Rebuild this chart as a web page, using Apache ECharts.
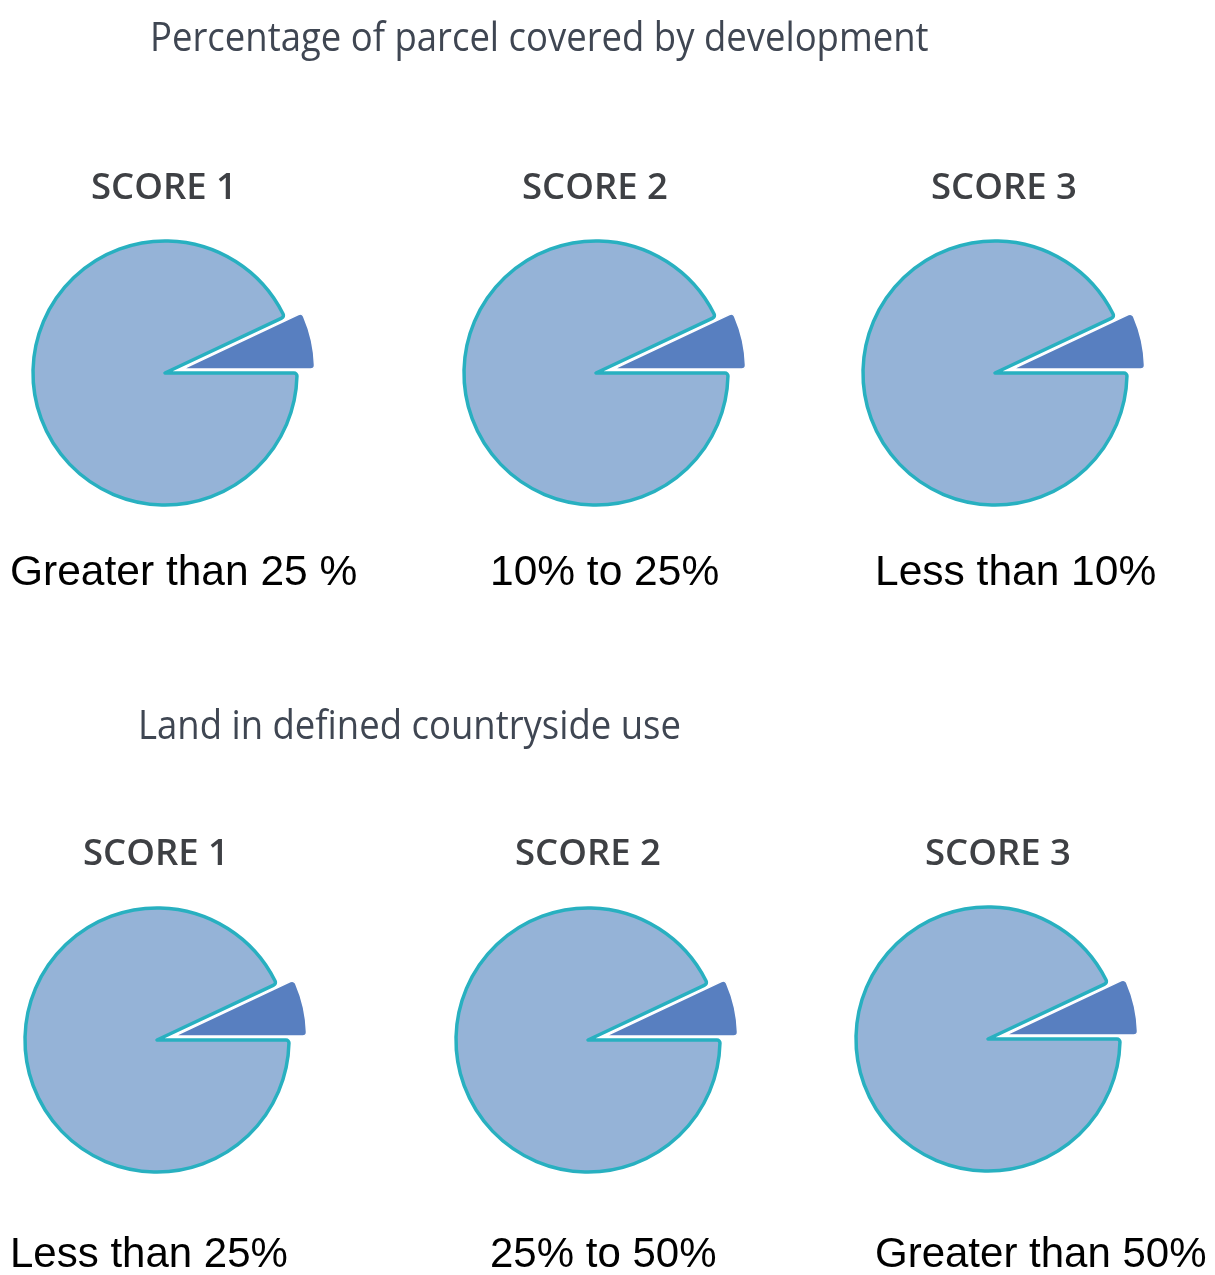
<!DOCTYPE html>
<html>
<head>
<meta charset="utf-8">
<script src="https://cdn.jsdelivr.net/npm/echarts@6/dist/echarts.min.js"></script>
<style>
  html, body { margin: 0; padding: 0; background: #ffffff; }
  #chart { width: 1215px; height: 1275px; }
</style>
</head>
<body>
<div id="chart"></div>
<script>
// ---- data ----
const sectionTitles = ['Percentage of parcel covered by development', 'Land in defined countryside use'];
const scoreLabels = ['SCORE 1', 'SCORE 2', 'SCORE 3'];
const rangeLabelsRow1 = ['Greater than 25 %', '10% to 25%', 'Less than 10%'];
const rangeLabelsRow2 = ['Less than 25%', '25% to 50%', 'Greater than 50%'];
const sliceNames = ['Highlighted share', 'Remainder'];
const sliceValues = [7, 93];

// ---- layout (positions only) ----
const pieCentersRow1 = [[165, 373], [596, 373], [995, 373]];
const pieCentersRow2 = [[157, 1040], [588, 1040], [988, 1039]];
const scoreXRow1 = [164, 595, 1004];
const scoreXRow2 = [156, 588, 998];
const labelLeft = [10, 490, 875];
const rowY = [{title: 40, score: 189, label: 573}, {title: 728, score: 855, label: 1255}];

const chart = echarts.init(document.getElementById('chart'), null, {renderer: 'canvas'});

const series = [];
const graphics = [];
const light = '#95b3d7';
const dark = '#587fc0';
const teal = '#28b0c0';

function addPie(center) {
  series.push({
    type: 'pie',
    center: center,
    radius: [0, 132],
    startAngle: 25.2,
    clockwise: true,
    selectedMode: 'multiple',
    selectedOffset: 18,
    animation: false,
    silent: true,
    label: {show: false},
    labelLine: {show: false},
    emphasis: {disabled: true},
    data: [
      {name: sliceNames[0], value: sliceValues[0], selected: true,
       itemStyle: {color: dark, borderColor: '#ffffff', borderWidth: 1.5, borderRadius: 4}},
      {name: sliceNames[1], value: sliceValues[1],
       itemStyle: {color: light, borderColor: teal, borderWidth: 3.5, borderRadius: 3}}
    ]
  });
}

pieCentersRow1.forEach(addPie);
pieCentersRow2.forEach(addPie);

function addText(text, x, y, font, fill, align, scaleX) {
  graphics.push({
    type: 'text',
    x: x, y: y,
    scaleX: scaleX || 1,
    silent: true,
    style: {text: text, font: font, fill: fill, align: align || 'left', verticalAlign: 'middle'}
  });
}

// section titles (slightly condensed)
addText(sectionTitles[0], 150, rowY[0].title, '400 40px "Open Sans"', '#3f4652', 'left', 0.912);
addText(sectionTitles[1], 138, rowY[1].title, '400 40px "Open Sans"', '#3f4652', 'left', 0.912);

// score headings
scoreLabels.forEach((s, i) => {
  addText(s, scoreXRow1[i], rowY[0].score, '600 36.5px "Open Sans"', '#3e4044', 'center');
  addText(s, scoreXRow2[i], rowY[1].score, '600 36.5px "Open Sans"', '#3e4044', 'center');
});

// range labels
rangeLabelsRow1.forEach((s, i) => addText(s, labelLeft[i], rowY[0].label, '42.5px "Liberation Sans", Arial', '#000000'));
rangeLabelsRow2.forEach((s, i) => addText(s, labelLeft[i], rowY[1].label, '42px "Liberation Sans", Arial', '#000000'));

chart.setOption({
  backgroundColor: '#ffffff',
  animation: false,
  series: series,
  graphic: graphics
});
</script>
</body>
</html>
